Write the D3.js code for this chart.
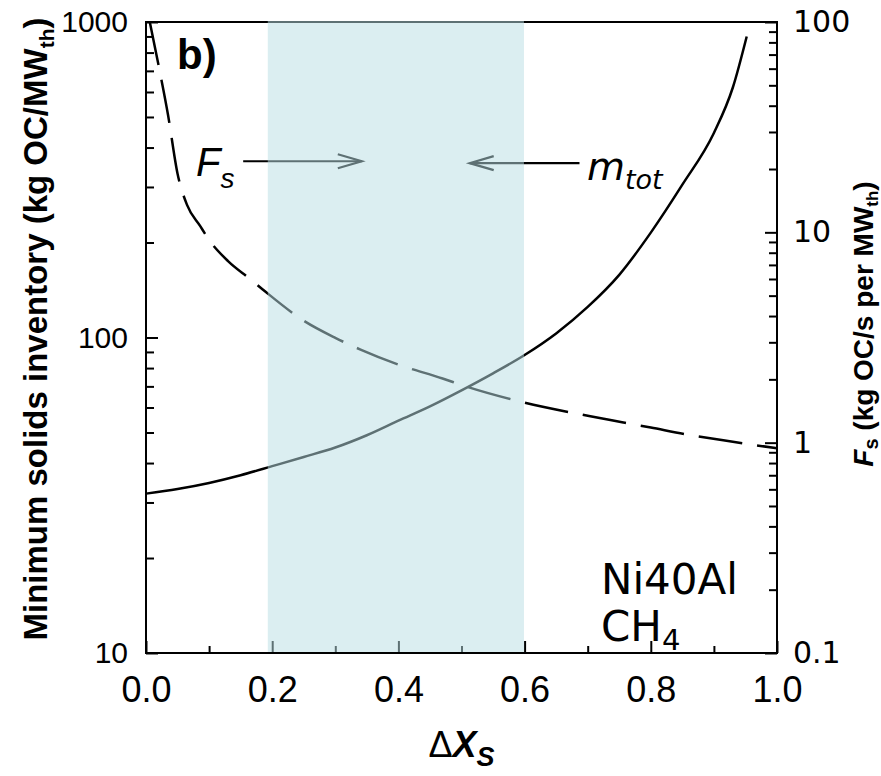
<!DOCTYPE html>
<html>
<head>
<meta charset="utf-8">
<script src="https://cdn.jsdelivr.net/npm/d3@7"></script>
<style>
  body { margin: 0; background: #fff; }
  svg { display: block; }
</style>
</head>
<body>
<svg id="chart" width="881" height="776"></svg>
<script>
// m_tot, kg OC/MW_th (left axis)
let mtotX = [0, 0.05, 0.1, 0.15, 0.2, 0.25, 0.3, 0.35, 0.4, 0.45, 0.5, 0.55, 0.6, 0.65, 0.7, 0.75, 0.8, 0.85, 0.9, 0.93, 0.952];
let mtotY = [32, 33.1, 34.6, 36.6, 39.1, 41.8, 44.8, 49, 54.5, 60.5, 68, 77, 88, 103, 125, 158, 215, 305, 445, 620, 900];

// F_s, kg OC/s per MW_th (right axis)
let fsX = [0.006, 0.02, 0.035, 0.05, 0.065, 0.086, 0.1, 0.13, 0.165, 0.19, 0.25, 0.3, 0.34, 0.4, 0.47, 0.5, 0.6, 0.69, 0.8, 0.86, 0.93, 1.0];
let fsY = [100, 62, 36, 19, 13.5, 10.7, 9.2, 7.3, 6.0, 5.2, 3.8, 3.15, 2.77, 2.35, 2.02, 1.88, 1.55, 1.36, 1.18, 1.09, 1.01, 0.94];

// shaded window of delta X_s
let band = [0.193, 0.599];

let xTicks = [0, 0.2, 0.4, 0.6, 0.8, 1.0];
let xMinor = [0.1, 0.3, 0.5, 0.7, 0.9];
let leftTicks = [10, 100, 1000];
let rightTicks = [0.1, 1, 10, 100];

let svg = d3.select('#chart');
let box = { left: 146, right: 777, top: 22, bottom: 653 };

let x = d3.scaleLinear().domain([0, 1]).range([box.left, box.right]);
let yL = d3.scaleLog().domain([10, 1000]).range([box.bottom, box.top]);
let yR = d3.scaleLog().domain([0.1, 100]).range([box.bottom, box.top]);

let minorOf = (lo, hi) => {
    let out = [];
    for (let d = lo; d < hi; d *= 10)
        for (let k = 2; k <= 9; k++) out.push(d * k);
    return out;
};

let tickFont = "'Liberation Sans', Arial, sans-serif";
let narrowFont = "'Liberation Sans Narrow', 'Arial Narrow', 'Liberation Sans', sans-serif";
let wideFont = "'DejaVu Sans', Verdana, sans-serif";

// x axis
let gx = svg.append('g').attr('transform', `translate(0,${box.bottom})`);
gx.call(d3.axisBottom(x).tickValues(xTicks).tickFormat(d3.format('.1f'))
    .tickSizeInner(-12).tickSizeOuter(0).tickPadding(23));
gx.append('g').call(d3.axisBottom(x).tickValues(xMinor).tickFormat('')
    .tickSizeInner(-7).tickSizeOuter(0));

// left axis
let gl = svg.append('g').attr('transform', `translate(${box.left},0)`);
gl.call(d3.axisLeft(yL).tickValues(leftTicks).tickFormat(d3.format('d'))
    .tickSizeInner(-12).tickSizeOuter(0).tickPadding(18));
gl.append('g').call(d3.axisLeft(yL).tickValues(minorOf(10, 1000)).tickFormat('')
    .tickSizeInner(-8).tickSizeOuter(0));

// right axis
let gr = svg.append('g').attr('transform', `translate(${box.right},0)`);
gr.call(d3.axisRight(yR).tickValues(rightTicks).tickFormat(d => d < 1 ? '0.1' : d3.format('d')(d))
    .tickSizeInner(-12).tickSizeOuter(0).tickPadding(16));
gr.append('g').call(d3.axisRight(yR).tickValues(minorOf(0.1, 100)).tickFormat('')
    .tickSizeInner(-8).tickSizeOuter(0));

svg.selectAll('.tick line').attr('stroke', '#000').attr('stroke-width', 2);
svg.selectAll('.domain').remove();
gx.selectAll('text').style('font-family', narrowFont).style('font-size', '36px').attr('fill', '#000');
gl.selectAll('text').style('font-family', tickFont).style('font-size', '30px').attr('fill', '#000');
gr.selectAll('text').style('font-family', wideFont).style('font-size', '30px').attr('fill', '#000');

// frame
svg.append('rect')
    .attr('x', box.left).attr('y', box.top)
    .attr('width', box.right - box.left).attr('height', box.bottom - box.top)
    .attr('fill', 'none').attr('stroke', '#000').attr('stroke-width', 2);

// curves
let mtot = mtotX.map((v, i) => [v, mtotY[i]]);
let fs = fsX.map((v, i) => [v, fsY[i]]);

svg.append('path')
    .datum(mtot)
    .attr('d', d3.line().x(d => x(d[0])).y(d => yL(d[1])).curve(d3.curveMonotoneX))
    .attr('fill', 'none').attr('stroke', '#000').attr('stroke-width', 2.5);

svg.append('path')
    .datum(fs)
    .attr('d', d3.line().x(d => x(d[0])).y(d => yR(d[1])).curve(d3.curveMonotoneX))
    .attr('fill', 'none').attr('stroke', '#000').attr('stroke-width', 2.5)
    .attr('stroke-dasharray', '44,15');

// arrows pointing into the band
let arrow = (x0, x1, v) => {
    let g = svg.append('g').attr('stroke', '#000').attr('stroke-width', 2.2).attr('fill', 'none');
    let px0 = x(x0), px1 = x(x1), py = yL(v);
    let dir = px1 > px0 ? 1 : -1;
    g.append('line').attr('x1', px0).attr('x2', px1).attr('y1', py).attr('y2', py);
    g.append('path').attr('d', `M${px1 - dir * 24},${py - 7}L${px1},${py}L${px1 - dir * 24},${py + 7}`);
};
arrow(0.154, 0.342, 362);
arrow(0.687, 0.513, 357);

// translucent band on top
svg.append('rect')
    .attr('x', x(band[0])).attr('y', box.top - 1)
    .attr('width', x(band[1]) - x(band[0])).attr('height', box.bottom - box.top)
    .attr('fill', 'rgb(185,222,228)').attr('opacity', 0.51);

// labels
svg.append('text').attr('x', 177).attr('y', 69)
    .style('font-family', narrowFont).style('font-weight', 'bold').style('font-size', '42px')
    .text('b)');

let fsLab = svg.append('text').attr('x', 196).attr('y', 176)
    .style('font-family', tickFont).style('font-style', 'italic').style('font-size', '40px');
fsLab.append('tspan').text('F');
fsLab.append('tspan').attr('dy', 12).style('font-size', '28px').text('s');

let mLab = svg.append('text').attr('x', 587).attr('y', 180)
    .style('font-family', wideFont).style('font-style', 'italic').style('font-size', '39px');
mLab.append('tspan').text('m');
mLab.append('tspan').attr('dy', 9).style('font-size', '27px').text('tot');

svg.append('text').attr('x', 601).attr('y', 594)
    .style('font-family', wideFont).style('font-size', '42px').text('Ni40Al');
let ch = svg.append('text').attr('x', 601).attr('y', 641)
    .style('font-family', wideFont).style('font-size', '42px');
ch.append('tspan').text('CH');
ch.append('tspan').attr('dy', 9).style('font-size', '29px').text('4');

// axis titles
let xt = svg.append('text').attr('x', x(0.5)).attr('y', 757).attr('text-anchor', 'middle')
    .style('font-family', narrowFont).style('font-size', '36px');
xt.append('tspan').text('Δ');
xt.append('tspan').style('font-weight', 'bold').style('font-style', 'italic').text('X');
xt.append('tspan').attr('dy', 9).style('font-weight', 'bold').style('font-style', 'italic')
    .style('font-size', '27px').text('S');

let lt = svg.append('text').attr('transform', 'translate(47,329) rotate(-90)').attr('text-anchor', 'middle')
    .style('font-family', tickFont).style('font-weight', 'bold').style('font-size', '33px');
lt.append('tspan').text('Minimum solids inventory (kg OC/MW');
lt.append('tspan').attr('dy', 7).style('font-size', '21px').text('th');
lt.append('tspan').attr('dy', -7).text(')');

let rt = svg.append('text').attr('transform', 'translate(873,324) rotate(-90)').attr('text-anchor', 'middle')
    .style('font-family', tickFont).style('font-weight', 'bold').style('font-size', '28px');
rt.append('tspan').style('font-style', 'italic').text('F');
rt.append('tspan').attr('dy', 5).style('font-size', '20px').text('s');
rt.append('tspan').attr('dy', -5).text(' (kg OC/s per MW');
rt.append('tspan').attr('dy', 5).style('font-size', '17px').text('th');
rt.append('tspan').attr('dy', -5).text(')');
</script>
</body>
</html>
